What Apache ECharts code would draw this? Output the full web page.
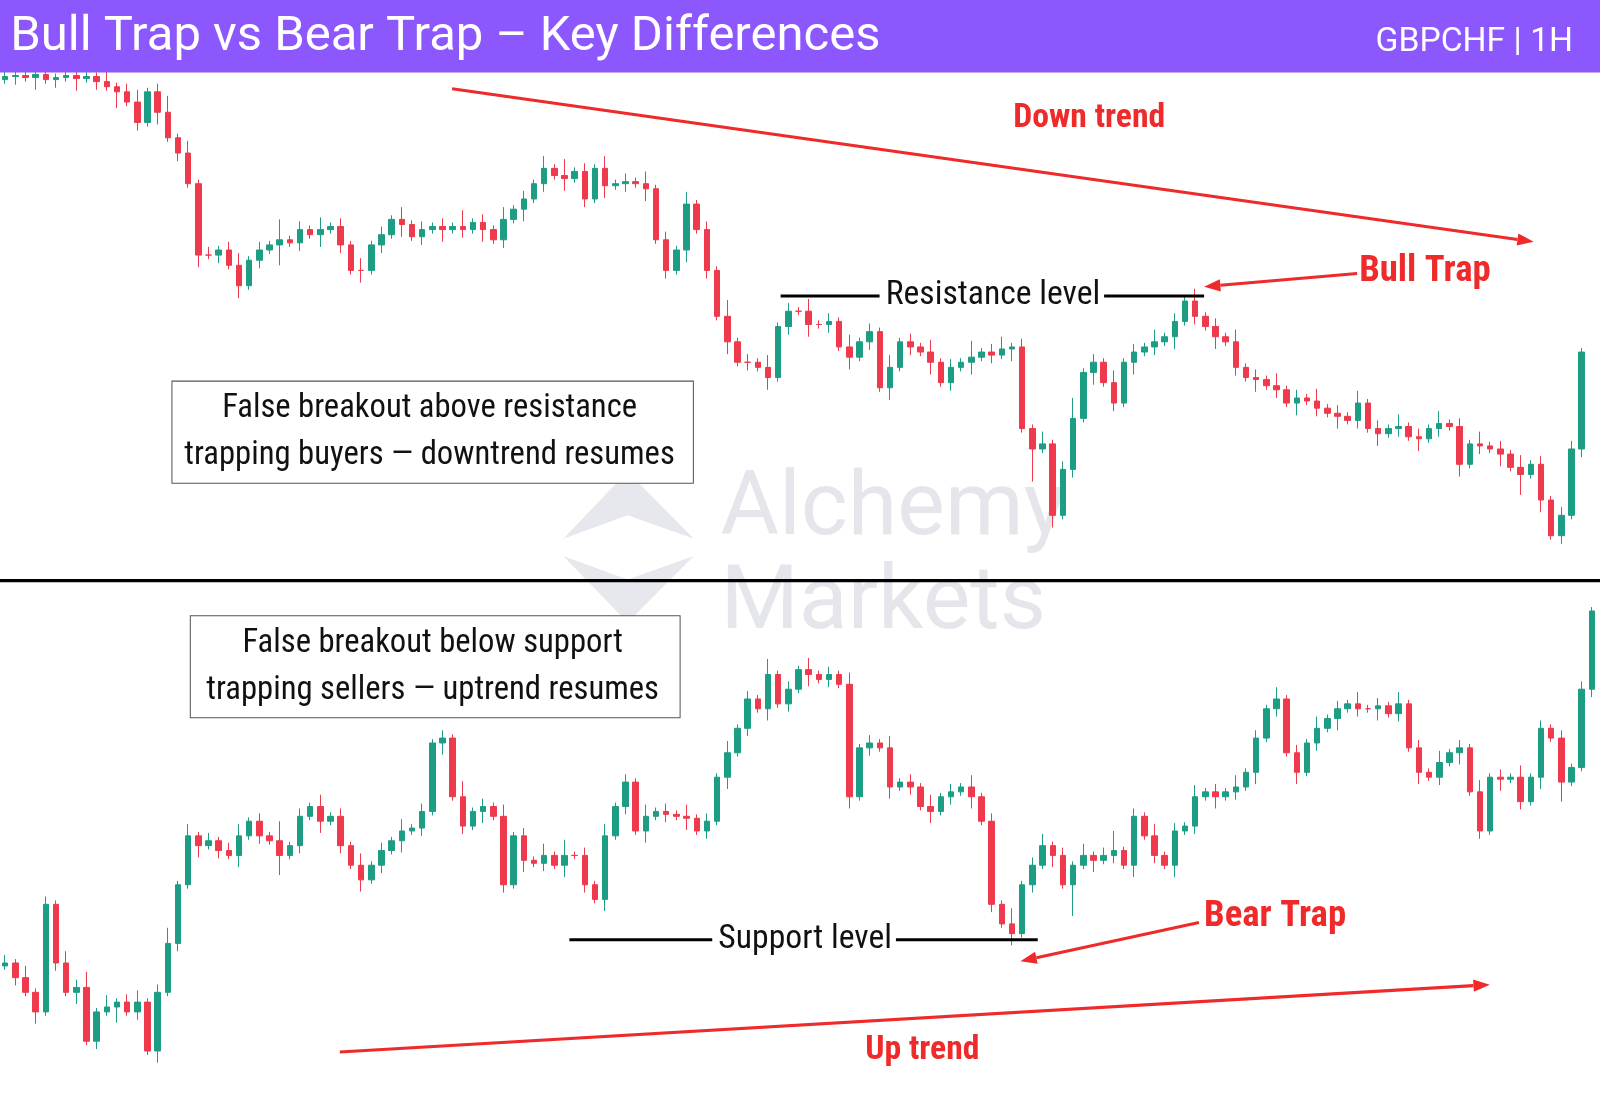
<!DOCTYPE html>
<html><head><meta charset="utf-8">
<script src="https://cdn.jsdelivr.net/npm/echarts@6/dist/echarts.min.js"></script>
<style>html,body{margin:0;padding:0;background:#fff}#c{width:1600px;height:1095px}</style>
</head><body><div id="c"></div>
<script>
// Top panel closes (inverted price scale)
const topCloses=[75,74,76,73,78,76,74,77,75,80,85,90,100,120,90,110,135,150,180,250,250,245,260,280,255,245,240,235,238,225,230,225,222,240,265,265,240,230,215,220,232,225,222,225,222,225,218,225,235,215,205,195,180,165,172,175,168,195,165,182,180,178,180,185,235,265,245,200,225,265,310,335,355,355,360,370,320,305,305,318,318,315,340,350,335,325,380,360,335,340,345,355,375,360,355,350,345,348,342,340,420,440,435,505,460,410,365,355,375,395,355,345,340,335,330,315,295,310,320,330,335,360,370,372,378,382,395,390,393,400,405,408,412,395,420,425,420,418,428,430,420,415,418,455,435,437,440,445,458,465,455,490,525,505,440,345];
const topUpWick="2131213241312312413121231215121312131213121214121312131412131213121312141213121312131213121312141231213125121312131213121312131213121312131213121312131212";
const topDnWick="1213121312141213121312131215121312131213121312131213121312131213121312131213121312131213121312131213181312131213121312131213121312131213121312131213151312";
// Bottom panel closes
const botCloses=[960,975,990,1010,900,960,990,985,1040,1010,1005,1000,1010,1000,1050,990,940,880,830,840,835,845,850,830,815,830,835,850,840,810,800,815,810,840,860,875,860,845,835,825,822,805,735,730,790,820,805,800,810,880,830,855,858,850,860,850,850,880,895,830,800,775,825,810,805,808,810,812,825,815,770,745,720,690,700,665,695,680,660,665,670,665,675,790,740,735,740,780,775,780,800,805,790,785,780,790,815,900,920,930,880,860,840,850,880,860,850,855,850,845,860,810,830,850,860,825,820,790,785,790,785,780,765,730,700,690,745,765,735,720,710,700,695,700,700,697,705,695,740,765,770,755,745,740,785,825,770,772,770,795,770,720,730,775,760,680,600];
const botUpWick="21312132413123124131212312151213121312131212141213121314121312131213121312141213121312131213121312141231213125121312131213121312131213121312131213121312121";
const botDnWick="12131213121412131213121312151213121312131213121312131213121312131213121312131213121312131213121312131213181312131213121312131213121312131213121312131213151";

function build(closes,up,dn,scale){
  const d=[];
  for(let i=0;i<closes.length;i++){
    const o=i?closes[i-1]:closes[i]+3, c=closes[i];
    const hi=Math.min(o,c)-(+up[i%up.length])*scale, lo=Math.max(o,c)+(+dn[i%dn.length])*scale;
    d.push([o,c,lo,hi]);
  }
  return d;
}
const S=1600/1568;
const UP='#1d9e84', DN='#ee3a4c';
const topData=build(topCloses,topUpWick,topDnWick,4);
const botData=build(botCloses,botUpWick,botDnWick,4);
// inverted axis: numerically rising value = falling price
const cs={color:DN,color0:UP,borderColor:DN,borderColor0:UP};
const FN="'Liberation Sans Narrow','Roboto Condensed',Roboto,sans-serif";
function arrow(x1,y1,x2,y2){
  const a=Math.atan2(y2-y1,x2-x1),L=16,W=6;
  const bx=x2-L*Math.cos(a),by=y2-L*Math.sin(a);
  return [{type:'line',shape:{x1,y1,x2:bx,y2:by},style:{stroke:'#ee2a2a',lineWidth:3}},
   {type:'polygon',shape:{points:[[x2,y2],[bx-W*Math.sin(a),by+W*Math.cos(a)],[bx+W*Math.sin(a),by-W*Math.cos(a)]]},style:{fill:'#ee2a2a'}}];
}
const chart=echarts.init(document.getElementById('c'));
const g=[
 {type:'text',x:706,y:455,style:{text:'Alchemy\nMarkets',font:'88px Roboto,sans-serif',fill:'rgba(175,175,198,0.33)',lineHeight:92},z:0},
 {type:'polygon',shape:{points:[[552,528],[615,462],[680,528],[615,505]]},style:{fill:'rgba(175,175,198,0.3)'},z:0},
 {type:'polygon',shape:{points:[[552,545],[615,568],[680,545],[615,610]]},style:{fill:'rgba(175,175,198,0.3)'},z:0},
 {type:'rect',shape:{x:0,y:0,width:1600,height:71},style:{fill:'#8c57fd'},z:10},
 {type:'text',x:10,y:13,style:{text:'Bull Trap vs Bear Trap – Key Differences',font:'48px Roboto,sans-serif',fill:'#fff'},z:11},
 {type:'text',x:1348,y:25,style:{text:'GBPCHF | 1H',font:'33px Roboto,sans-serif',fill:'#fff'},z:11},
 {type:'line',shape:{x1:0,y1:569,x2:1600,y2:569},style:{stroke:'#000',lineWidth:3},z:10},
 {type:'text',x:993,y:100,style:{text:'Down trend',font:'bold 33px '+FN,fill:'#ee2a2a'},z:10},
 {type:'text',x:848,y:1013,style:{text:'Up trend',font:'bold 33px '+FN,fill:'#ee2a2a'},z:10},
 {type:'text',x:1332,y:248,style:{text:'Bull Trap',font:'bold 36px '+FN,fill:'#ee2a2a'},z:10},
 {type:'text',x:1180,y:880,style:{text:'Bear Trap',font:'bold 36px '+FN,fill:'#ee2a2a'},z:10},
 {type:'line',shape:{x1:765,y1:290,x2:862,y2:290},style:{stroke:'#000',lineWidth:3},z:10},
 {type:'line',shape:{x1:1082,y1:290,x2:1180,y2:290},style:{stroke:'#000',lineWidth:3},z:10},
 {type:'text',x:868,y:273,style:{text:'Resistance level',font:'33px '+FN,fill:'#111'},z:10},
 {type:'line',shape:{x1:558,y1:921,x2:698,y2:921},style:{stroke:'#000',lineWidth:3},z:10},
 {type:'line',shape:{x1:878,y1:921,x2:1017,y2:921},style:{stroke:'#000',lineWidth:3},z:10},
 {type:'text',x:704,y:904,style:{text:'Support level',font:'33px '+FN,fill:'#111'},z:10},
 {type:'rect',shape:{x:168.5,y:373.5,width:511,height:100},style:{fill:'#fff',stroke:'#555',lineWidth:1},z:10},
 {type:'text',x:421,y:424,style:{text:'False breakout above resistance\ntrapping buyers — downtrend resumes',font:'32px '+FN,fill:'#111',align:'center',verticalAlign:'middle',lineHeight:46},z:11},
 {type:'rect',shape:{x:186.5,y:603.5,width:480,height:100},style:{fill:'#fff',stroke:'#555',lineWidth:1},z:10},
 {type:'text',x:424,y:654,style:{text:'False breakout below support\ntrapping sellers — uptrend resumes',font:'32px '+FN,fill:'#111',align:'center',verticalAlign:'middle',lineHeight:46},z:11},
 ...arrow(443,87,1503,237),...arrow(333,1031,1460,965),...arrow(1330,268,1180,281),...arrow(1175,904,1000,942)
].map(o=>Object.assign({z:10},o));
chart.setOption({
 animation:false,
 grid:[{left:-5*S,top:72*S,width:1560*S,height:496*S},{left:-5*S,top:570*S,width:1570*S,height:525*S}],
 xAxis:[{type:'category',gridIndex:0,data:topCloses.map((_,i)=>i),show:false},
        {type:'category',gridIndex:1,data:botCloses.map((_,i)=>i),show:false}],
 yAxis:[{gridIndex:0,inverse:true,min:72,max:568,show:false},
        {gridIndex:1,inverse:true,min:570,max:1095,show:false}],
 series:[{type:'candlestick',xAxisIndex:0,yAxisIndex:0,data:topData,itemStyle:cs,barWidth:6,clip:true},
         {type:'candlestick',xAxisIndex:1,yAxisIndex:1,data:botData,itemStyle:cs,barWidth:6,clip:true}],
 graphic:[{type:'group',scaleX:S,scaleY:S,children:g}]
});
</script></body></html>
